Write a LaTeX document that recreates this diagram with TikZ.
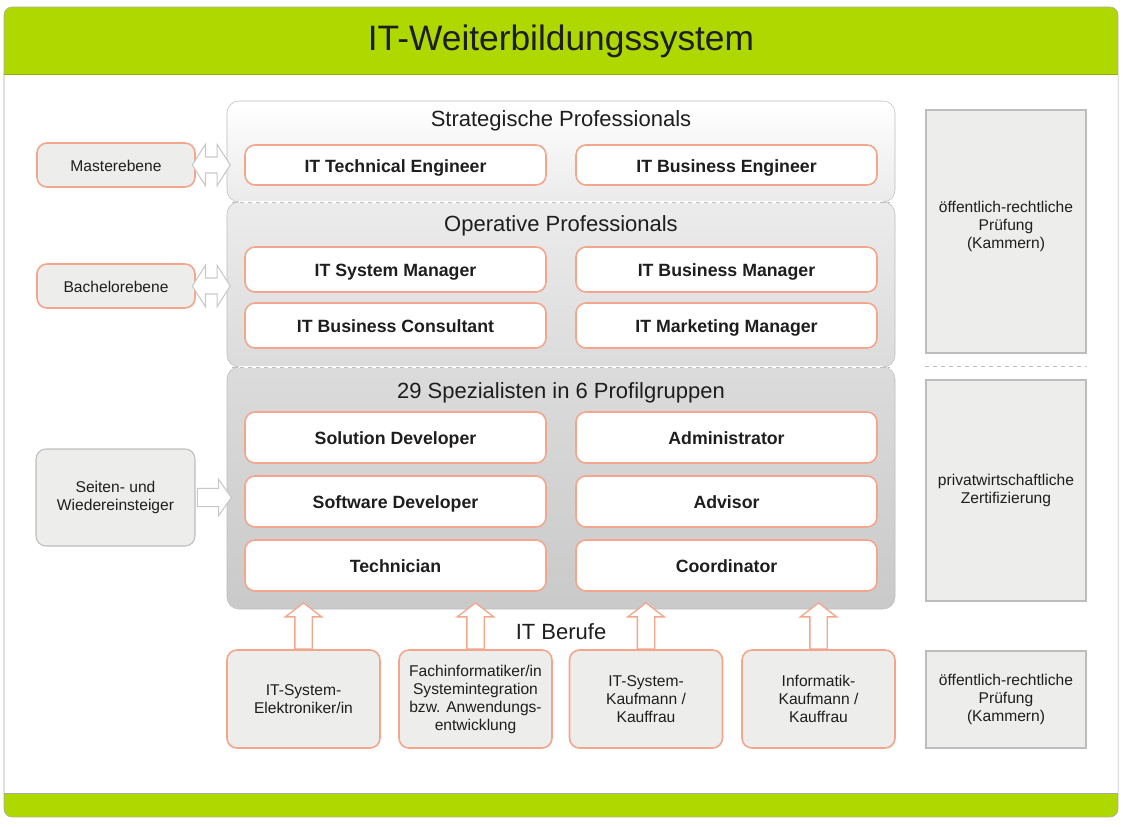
\documentclass[tikz,border=0pt]{standalone}
\usepackage{fontspec}
\setmainfont{Liberation Sans}
\usetikzlibrary{shapes.arrows,calc}

\definecolor{itgreen}{HTML}{AFD800}
\definecolor{itgreendark}{HTML}{8CAE00}
\definecolor{itorange}{HTML}{F4A68C}
\definecolor{itframe}{HTML}{A8A8A8}
\definecolor{itborder}{HTML}{BDBDBD}
\definecolor{itbox}{HTML}{EDEDEB}
\definecolor{itarrow}{HTML}{C8C8C8}
\definecolor{ittext}{HTML}{1E1E1E}

\newcommand{\itsmall}{\fontsize{11.7}{13.5}\selectfont}

\begin{document}
\begin{tikzpicture}[x=0.75pt,y=-0.75pt,
    tier/.style={draw=itborder,rounded corners=9pt,minimum width=501pt,inner sep=0pt},
    tiertitle/.style={font=\fontsize{16.5}{19}\selectfont,text=ittext},
    job/.style={draw=itorange,line width=1.2pt,fill=white,rounded corners=7.5pt,
        minimum width=225.75pt,inner sep=0pt,text=ittext,text height=10.5pt,text depth=0pt,
        font=\fontsize{13.3}{16}\selectfont\bfseries},
    level/.style={draw=itorange,line width=1.2pt,fill=itbox,rounded corners=7.5pt,
        minimum width=118.5pt,minimum height=33pt,inner sep=0pt,text=ittext,
        text height=9pt,text depth=0pt,font=\itsmall},
    entry/.style={draw=itborder,line width=0.8pt,fill=itbox,rounded corners=7.5pt,
        minimum width=119.25pt,minimum height=72.75pt,inner sep=0pt,align=center,
        text=ittext,font=\itsmall},
    beruf/.style={draw=itorange,line width=1.2pt,fill=itbox,rounded corners=7.5pt,
        minimum width=114.75pt,minimum height=73.5pt,inner sep=0pt,align=center,
        text=ittext,font=\itsmall},
    cert/.style={draw=itborder,line width=0.8pt,fill=itbox,minimum width=120pt,
        inner sep=0pt,align=center,text=ittext,font=\itsmall},
    dblarrow/.style={double arrow,draw=itarrow,fill=white,line width=0.8pt,
        minimum height=28.5pt,inner sep=5.6pt,double arrow head extend=9.4pt,
        double arrow tip angle=115},
    inarrow/.style={single arrow,draw=itarrow,fill=white,line width=0.8pt,
        minimum height=25.5pt,inner sep=6.4pt,single arrow head extend=6.75pt,
        single arrow tip angle=110},
    uparrow/.style={single arrow,draw=itorange,fill=white,line width=1pt,rotate=90,
        minimum height=34.5pt,inner sep=6pt,single arrow head extend=7.1pt,
        single arrow tip angle=105},
    tiersep/.style={draw=itborder,dashed,shorten <=4pt,shorten >=4pt}]

    \useasboundingbox (0,0) rectangle (1123,826);

    % frame and green bands
    \begin{scope}
        \clip[rounded corners=6pt] (4,7) rectangle (1118,817);
        \fill[white] (4,7) rectangle (1118,817);
        \fill[itgreen] (4,7) rectangle (1118,74);
        \fill[itgreen] (4,793) rectangle (1118,817);
        \draw[itgreendark] (4,74) -- (1118,74);
        \draw[itframe] (4,793) -- (1118,793);
    \end{scope}
    \draw[itframe,rounded corners=6pt] (4,7) rectangle (1118,817);
    \node[font=\fontsize{26.5}{30}\selectfont,text=ittext] (title) at (561,41) {IT-Weiterbildungssystem};

    % tiers
    \node[tier,minimum height=75.75pt,top color=white,bottom color=gray!16] (strat) at (561,151.5) {};
    \node[tier,minimum height=123.75pt,top color=gray!15,bottom color=gray!28] (oper) at (561,284.5) {};
    \node[tier,minimum height=181.5pt,top color=gray!28,bottom color=gray!42] (spez) at (561,488) {};
    \draw[white,line width=1.6pt,shorten <=9pt,shorten >=9pt] (strat.south west) -- (strat.south east);
    \draw[white,line width=1.6pt,shorten <=9pt,shorten >=9pt] (oper.south west) -- (oper.south east);
    \path[tiersep] (strat.south west) -- (strat.south east);
    \path[tiersep] (oper.south west) -- (oper.south east);

    \node[tiertitle] (strattitle) at (561,121) {Strategische Professionals};
    \node[tiertitle] (opertitle) at (561,226) {Operative Professionals};
    \node[tiertitle] (speztitle) at (561,393) {29 Spezialisten in 6 Profilgruppen};

    \node[job,minimum height=30pt] (techeng) at (395.5,165) {IT Technical Engineer};
    \node[job,minimum height=30pt] (buseng) at (726.5,165) {IT Business Engineer};

    \node[job,minimum height=33.75pt] (sysman) at (395.5,269.5) {IT System Manager};
    \node[job,minimum height=33.75pt] (busman) at (726.5,269.5) {IT Business Manager};
    \node[job,minimum height=33.75pt] (buscons) at (395.5,325.5) {IT Business Consultant};
    \node[job,minimum height=33.75pt] (markman) at (726.5,325.5) {IT Marketing Manager};

    \node[job,minimum height=38.25pt] (soldev) at (395.5,437.5) {Solution Developer};
    \node[job,minimum height=38.25pt] (admin) at (726.5,437.5) {Administrator};
    \node[job,minimum height=38.25pt] (softdev) at (395.5,501.5) {Software Developer};
    \node[job,minimum height=38.25pt] (advisor) at (726.5,501.5) {Advisor};
    \node[job,minimum height=38.25pt] (techn) at (395.5,565.5) {Technician};
    \node[job,minimum height=38.25pt] (coord) at (726.5,565.5) {Coordinator};

    % left side
    \node[level] (master) at (116,165) {Masterebene};
    \node[level] (bachelor) at (116,286) {Bachelorebene};
    \node[entry] (seiten) at (115.5,497.5) {Seiten- und\\Wiedereinsteiger};

    \node[dblarrow] (masterarrow) at ($(master.east)!.5!(master.east -| strat.west)$) {};
    \node[dblarrow] (bachelorarrow) at ($(bachelor.east)!.5!(bachelor.east -| oper.west)$) {};
    \node[inarrow] (seitenarrow) at ($(seiten.east)!.5!(seiten.east -| spez.west)$) {};

    % IT Berufe
    \node[tiertitle] (berufe) at (561,632) {IT Berufe};
    \node[beruf] (elek) at (303.5,699) {IT-System-\\Elektroniker/in};
    \node[beruf] (fachinf) at (475.5,699) {Fachinformatiker/in\\Systemintegration\\bzw. Anwendungs-\\entwicklung};
    \node[beruf] (syskauf) at (646,699) {IT-System-\\Kaufmann /\\Kauffrau};
    \node[beruf] (infkauf) at (818.5,699) {Informatik-\\Kaufmann /\\Kauffrau};

    \foreach \b in {elek,fachinf,syskauf,infkauf}
        \node[uparrow] (\b arrow) at ($(\b.north)!.5!(\b.north |- spez.south)$) {};

    % right side
    \node[cert,minimum height=182.25pt] (kammer) at (1006,231.5) {öffentlich-rechtliche\\Prüfung\\(Kammern)\\[-3.75pt]\mbox{}};
    \node[cert,minimum height=165.75pt] (privat) at (1006,490.5) {privatwirtschaftliche\\Zertifizierung};
    \node[cert,minimum height=72.75pt] (kammerb) at (1006,699.5) {öffentlich-rechtliche\\Prüfung\\(Kammern)};
    \path[tiersep,shorten <=0pt,shorten >=0pt] ($(kammer.south west)!.5!(privat.north west)$) -- ($(kammer.south east)!.5!(privat.north east)$);
\end{tikzpicture}
\end{document}
